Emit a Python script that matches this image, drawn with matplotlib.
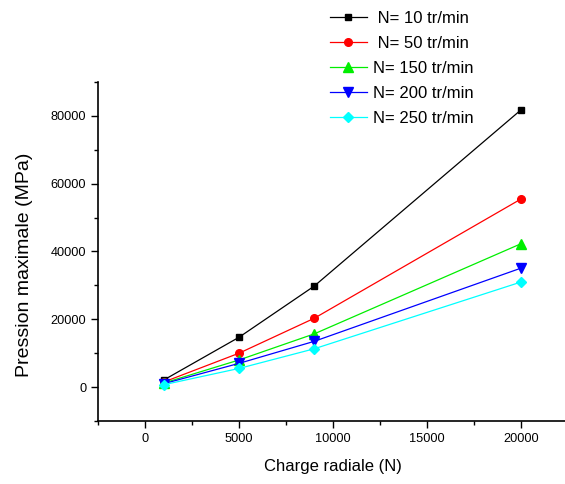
import matplotlib
matplotlib.use("Agg")
import matplotlib.pyplot as plt
from matplotlib.ticker import MultipleLocator

plt.rcParams["font.family"] = ["Liberation Sans", "DejaVu Sans"]

# charge radiale (N)
charge = [1000, 5000, 9000, 20000]

# pression maximale (MPa) for each rotation speed
p_10 = [2100, 14700, 29800, 81800]
p_50 = [1500, 10000, 20300, 55500]
p_150 = [1200, 8000, 15700, 42300]
p_200 = [1000, 7000, 13500, 35100]
p_250 = [700, 5500, 11300, 31000]

labels = [" N= 10 tr/min", " N= 50 tr/min", "N= 150 tr/min", "N= 200 tr/min", "N= 250 tr/min"]
colors = ["black", "red", "#00ee00", "blue", "cyan"]
markers = ["s", "o", "^", "v", "D"]
msizes = [5, 5.5, 6.5, 6.5, 5.5]

fig = plt.figure(figsize=(5.65, 4.84), dpi=100)
ax = fig.add_axes([0.1735, 0.1302, 0.832, 0.7004])

for ys, c, m, ms, lab in zip([p_10, p_50, p_150, p_200, p_250], colors, markers, msizes, labels):
    ax.plot(charge, ys, color=c, marker=m, markersize=ms, linewidth=0.9, label=lab)

ax.set_xlim(-2500, 22500)
ax.set_ylim(-10000, 90000)
ax.xaxis.set_major_locator(MultipleLocator(5000))
ax.xaxis.set_minor_locator(MultipleLocator(2500))
ax.yaxis.set_major_locator(MultipleLocator(20000))
ax.yaxis.set_minor_locator(MultipleLocator(10000))
ax.tick_params(which="major", direction="out", length=5, width=1, labelsize=9.2)
ax.tick_params(which="minor", direction="out", length=3, width=1)
for s in ["top", "right"]:
    ax.spines[s].set_visible(False)
for s in ["left", "bottom"]:
    ax.spines[s].set_linewidth(1.2)

ax.set_xlabel("Charge radiale (N)", fontsize=12, labelpad=10)
ax.set_ylabel("Pression maximale (MPa)", fontsize=14)
ax.yaxis.set_label_coords(-0.138, 0.46)

ax.legend(loc="upper left", bbox_to_anchor=(0.584, 0.978), bbox_transform=fig.transFigure,
          frameon=False, fontsize=12, handlelength=2.2, handletextpad=0.4,
          labelspacing=0.6, borderpad=0, borderaxespad=0)

fig.savefig("out.png", dpi=100)
